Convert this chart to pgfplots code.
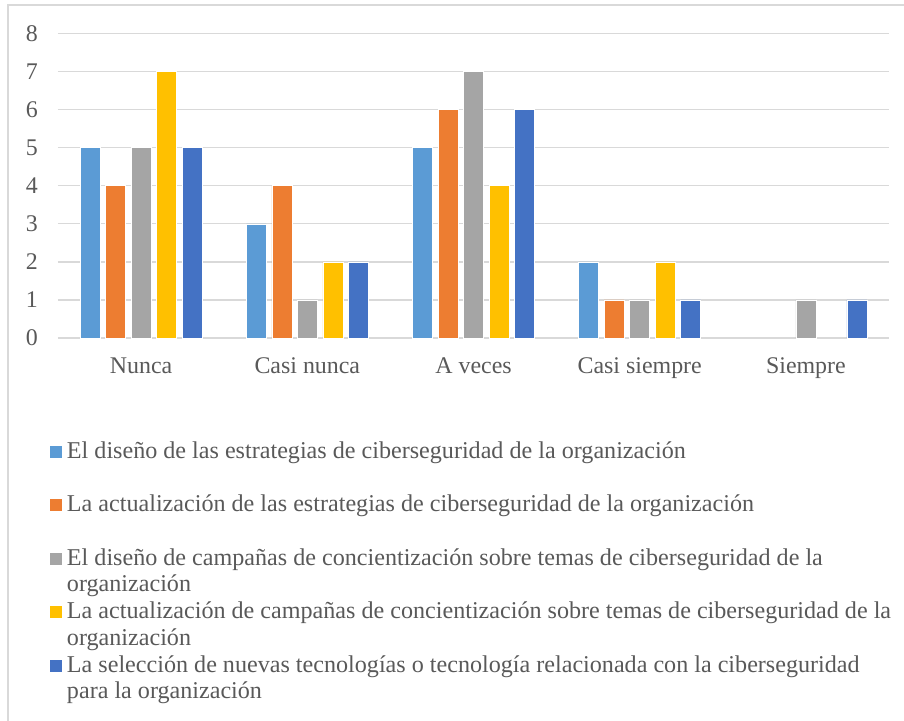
\documentclass[border=0pt]{standalone}
\usepackage{pgfplots}
\pgfplotsset{compat=1.18}
\usepackage{fontspec}
\setmainfont{Liberation Serif}
\definecolor{c1}{HTML}{5B9BD5}
\definecolor{c2}{HTML}{ED7D31}
\definecolor{c3}{HTML}{A5A5A5}
\definecolor{c4}{HTML}{FFC000}
\definecolor{c5}{HTML}{4472C4}
\definecolor{txt}{HTML}{595959}
\definecolor{gridc}{HTML}{D9D9D9}
\begin{document}
\begin{tikzpicture}
\useasboundingbox (-58bp,-383bp) rectangle (846bp,338bp);
\draw[gridc, line width=1.3bp] (-50bp,-400bp) -- (-50bp,333bp) -- (860bp,333bp);
\begin{axis}[
  scale only axis,
  width=831bp, height=304.5bp,
  ybar=5.5bp, bar width=20bp,
  ymin=0, ymax=8, ytick={0,...,8},
  xmin=-0.5, xmax=4.5,
  xtick={0,...,4},
  xticklabels={Nunca, Casi nunca, A veces, Casi siempre, Siempre},
  ymajorgrids,
  grid style={gridc, line width=1.3bp},
  axis line style={draw=none},
  major tick length=0pt,
  /pgf/number format/assume math mode=true,
  ticklabel style={font=\fontsize{24}{28}\selectfont, text=txt},
  yticklabel style={anchor=east, inner sep=0pt, xshift=-20bp},
  xticklabel style={anchor=base, inner sep=0pt, yshift=-35bp},
  legend image code/.code={\path[#1,draw=none] (0bp,0.5bp) rectangle (12bp,12.5bp);},
  legend style={at={(axis description cs:0,0)}, anchor=north west,
    xshift=-8bp, yshift=-101bp, draw=none, inner sep=0pt, outer sep=0pt,
    row sep=0pt, column sep=5bp,
    cells={anchor=base west},
    nodes={anchor=base west, inner sep=0pt, text height=19bp, text depth=7.75bp,
      font=\fontsize{24.2}{28}\selectfont, text=txt}},
]
\addplot[fill=c1, draw=white, line width=0.6bp] coordinates {(0,5) (1,3) (2,5) (3,2)};
\addlegendentry{El diseño de las estrategias de ciberseguridad de la organización}
\addlegendimage{empty legend}
\addlegendentry{}
\addplot[fill=c2, draw=white, line width=0.6bp] coordinates {(0,4) (1,4) (2,6) (3,1)};
\addlegendentry{La actualización de las estrategias de ciberseguridad de la organización}
\addlegendimage{empty legend}
\addlegendentry{}
\addplot[fill=c3, draw=white, line width=0.6bp] coordinates {(0,5) (1,1) (2,7) (3,1) (4,1)};
\addlegendentry{El diseño de campañas de concientización sobre temas de ciberseguridad de la}
\addlegendimage{empty legend}
\addlegendentry{organización}
\addplot[fill=c4, draw=white, line width=0.6bp] coordinates {(0,7) (1,2) (2,4) (3,2)};
\addlegendentry{La actualización de campañas de concientización sobre temas de ciberseguridad de la}
\addlegendimage{empty legend}
\addlegendentry{organización}
\addplot[fill=c5, draw=white, line width=0.6bp] coordinates {(0,5) (1,2) (2,6) (3,1) (4,1)};
\addlegendentry{La selección de nuevas tecnologías o tecnología relacionada con la ciberseguridad}
\addlegendimage{empty legend}
\addlegendentry{para la organización}
\end{axis}
\end{tikzpicture}
\end{document}
